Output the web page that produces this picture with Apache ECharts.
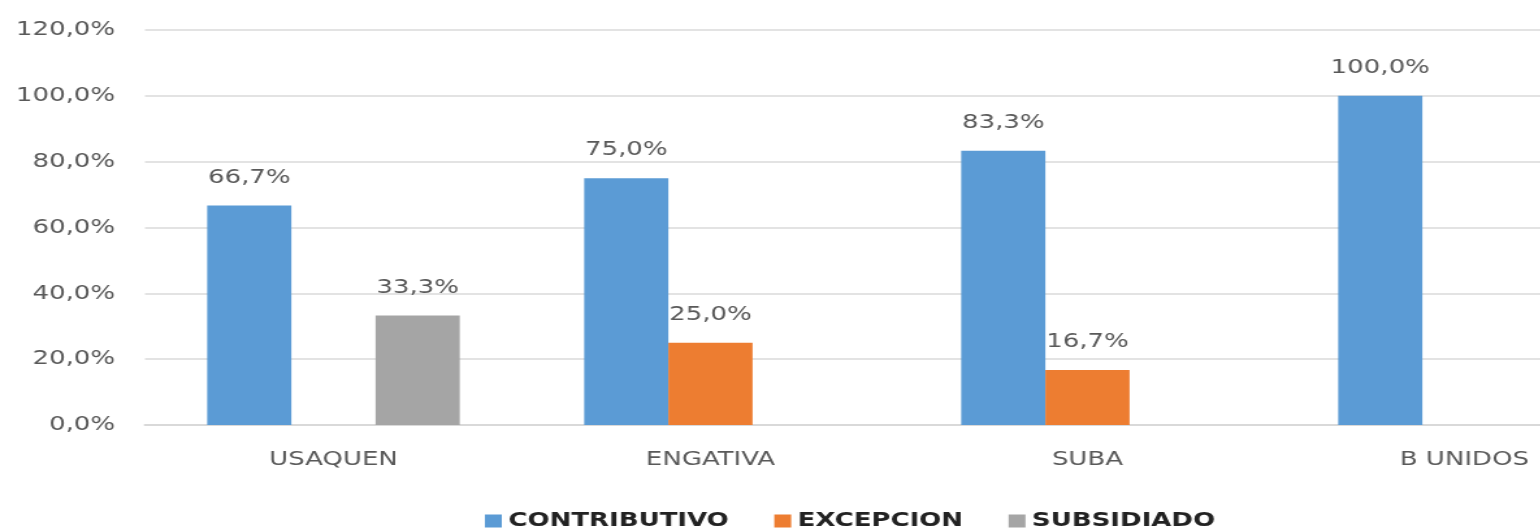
<!DOCTYPE html>
<html>
<head>
<meta charset="utf-8">
<title>Regimen por localidad</title>
<script src="https://cdn.jsdelivr.net/npm/echarts@6/dist/echarts.min.js"></script>
<style>
  html, body { margin: 0; padding: 0; background: #fff; overflow: hidden; }
  /* la imagen original esta estirada a lo ancho */
  #myChart {
    width: 1185px;
    height: 529px;
    transform: scaleX(1.3);
    transform-origin: 0 0;
  }
</style>
</head>
<body>
<div id="myChart"></div>
<script>
// datos
var categorias = ["USAQUEN", "ENGATIVA", "SUBA", "B UNIDOS"];
var contributivo = [66.7, 75.0, 83.3, 100.0];
var excepcion = [null, 25.0, 16.7, null];
var subsidiado = [33.3, null, null, null];
var ticksY = [0, 20, 40, 60, 80, 100, 120];

var fuente = "DejaVu Sans";
var gris = "#595959";

function pct(v) {
  return v.toFixed(1).replace(".", ",") + "%";
}

function serie(nombre, datos, color) {
  return {
    name: nombre,
    type: "bar",
    data: datos,
    barGap: "0%",
    barCategoryGap: "33%",
    itemStyle: { color: color },
    label: {
      show: true,
      position: "top",
      distance: 18,
      color: gris,
      fontFamily: fuente,
      fontSize: 20,
      formatter: function (p) { return pct(p.value); }
    }
  };
}

var myChart = echarts.init(document.getElementById("myChart"));
var option = {
  animation: false,
  grid: {
    left: 111.5,
    top: 30,
    bottom: 104,
    width: 1160,
    outerBoundsMode: "none"
  },
  legend: {
    top: 506,
    left: 368,
    itemWidth: 13,
    itemHeight: 13,
    itemGap: 35,
    icon: "rect",
    textStyle: {
      fontFamily: fuente,
      fontWeight: "bold",
      fontSize: 20,
      color: "#222"
    },
    data: ["CONTRIBUTIVO", "EXCEPCION", "SUBSIDIADO"]
  },
  xAxis: {
    type: "category",
    data: categorias,
    axisTick: { show: false },
    axisLine: { lineStyle: { color: "#D9D9D9", width: 2 } },
    axisLabel: {
      color: gris,
      fontFamily: fuente,
      fontSize: 20,
      margin: 25
    }
  },
  yAxis: {
    type: "value",
    min: ticksY[0],
    max: ticksY[ticksY.length - 1],
    interval: 20,
    axisLine: { show: false },
    axisTick: { show: false },
    splitLine: { lineStyle: { color: "#E3E3E3", width: 2 } },
    axisLabel: {
      color: gris,
      fontFamily: fuente,
      fontSize: 20,
      margin: 23,
      formatter: function (v) { return pct(v); }
    }
  },
  series: [
    serie("CONTRIBUTIVO", contributivo, "#5B9BD5"),
    serie("EXCEPCION", excepcion, "#ED7D31"),
    serie("SUBSIDIADO", subsidiado, "#A5A5A5")
  ]
};
myChart.setOption(option);
window.onresize = myChart.resize;
</script>
</body>
</html>
